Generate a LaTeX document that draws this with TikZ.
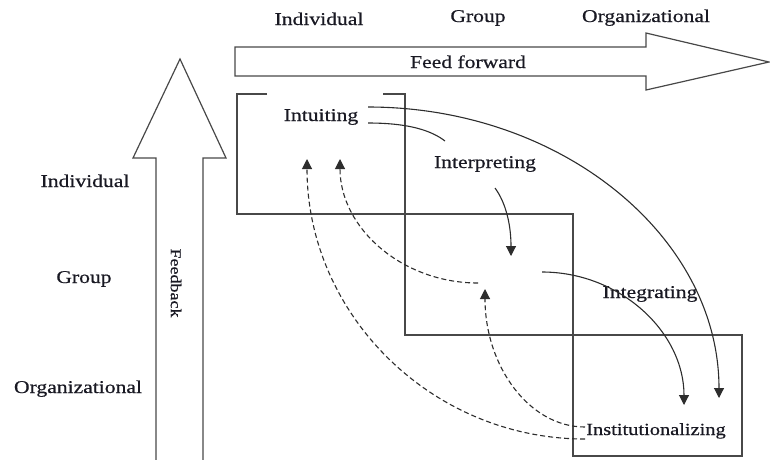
\documentclass[tikz,border=0pt]{standalone}
\usepackage{fontspec}
\setmainfont[FakeStretch=1.2,FakeBold=0.6]{Liberation Serif}
\usetikzlibrary{arrows.meta}
\definecolor{linegray}{RGB}{72,72,72}
\definecolor{flowgray}{RGB}{45,45,45}
\definecolor{ink}{RGB}{25,25,35}
\begin{document}
\begin{tikzpicture}[x=1pt,y=-1pt,
  lbl/.style={font=\fontsize{18}{20}\selectfont, text=ink, inner sep=0pt, anchor=base},
  frame/.style={draw=linegray, line width=1.4pt},
  bigarrow/.style={draw=linegray, line width=1.2pt, line join=miter},
  flow/.style={draw=flowgray, line width=1.1pt},
  tip/.style={-{Triangle[length=10pt,width=10pt]}},
  back/.style={flow, dash pattern=on 5pt off 3pt},
]
\useasboundingbox (0,0) rectangle (770,459);

% level headings
\node[lbl] (hInd) at (319,25) {Individual};
\node[lbl] (hGrp) at (478,22) {Group};
\node[lbl] (hOrg) at (646,22) {Organizational};
\node[lbl] (vInd) at (85,187) {Individual};
\node[lbl] (vGrp) at (84,283) {Group};
\node[lbl] (vOrg) at (78,393) {Organizational};

% feed-forward arrow
\draw[bigarrow] (235,47) -- (646,47) -- (646,33) -- (769,62) -- (646,90)
  -- (646,76) -- (235,76) -- cycle;
\node[lbl] (ff) at (468,68) {Feed forward};

% feedback arrow
\draw[bigarrow] (156,465) -- (156,158) -- (133,158) -- (180,59) -- (226,158)
  -- (203,158) -- (203,465);
\node[font=\fontsize{15}{17}\selectfont, text=ink, rotate=-90, inner sep=0pt]
  (fb) at (176,283) {Feedback};

% level frames
\draw[frame] (267,94) -- (237,94) -- (237,214) -- (405,214) -- (405,94) -- (383,94);
\draw[frame] (405,214) rectangle (573,335);
\draw[frame] (573,335) rectangle (742,456);

% process labels
\node[lbl] (intu) at (321,121) {Intuiting};
\node[lbl] (interp) at (485,168) {Interpreting};
\node[lbl] (integ) at (650,298) {Integrating};
\node[lbl, font=\fontsize{17}{19}\selectfont] (inst) at (656,435) {Institutionalizing};

% connector end points
\coordinate (intuA) at (368,107);
\coordinate (intuB) at (368,123);
\coordinate (interpIn) at (445,141);
\coordinate (interpOut) at (495,188);
\coordinate (grpIn) at (511,256);
\coordinate (grpOut) at (542,272);
\coordinate (instInA) at (719,398);
\coordinate (instInB) at (684,405);
\coordinate (instOutA) at (585,439);
\coordinate (instOutB) at (585,427);
\coordinate (grpBackIn) at (485,289);
\coordinate (grpBackOut) at (478,283);
\coordinate (indBackA) at (307,159);
\coordinate (indBackB) at (340,159);

% feed-forward flows
\draw[flow, tip] (intuA) .. controls (562,107) and (719,237) .. (instInA);
\draw[flow] (intuB) .. controls (410,123) and (432,131) .. (interpIn);
\draw[flow, tip] (interpOut) .. controls (506,203) and (511,225) .. (grpIn);
\draw[flow, tip] (grpOut) .. controls (620,272) and (684,332) .. (instInB);

% feedback flows
\draw[back, tip] (instOutA) .. controls (431,439) and (307,314) .. (indBackA);
\draw[back, tip] (grpBackOut) .. controls (402,283) and (340,228) .. (indBackB);
\draw[back, tip] (instOutB) .. controls (529,427) and (485,366) .. (grpBackIn);
\end{tikzpicture}
\end{document}
